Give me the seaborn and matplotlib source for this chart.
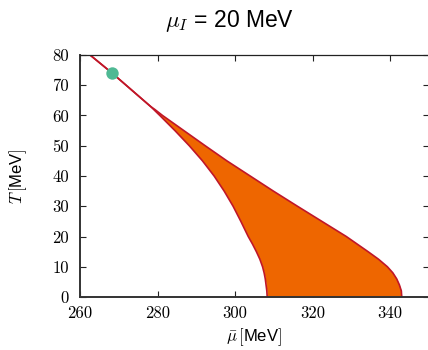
import matplotlib
matplotlib.use("Agg")
import matplotlib.pyplot as plt
import seaborn as sns

# Data
T_vals = [0, 2, 4, 6, 8, 10, 12.5, 15, 17.5, 20, 25, 30, 35, 40, 45, 50, 55,
          60, 62, 63, 65, 70, 74, 80]
mu_left = [308.3, 308.2, 308.0, 307.8, 307.5, 307.1, 306.4, 305.5, 304.5, 303.4,
           301.5, 299.5, 297.2, 294.6, 291.6, 288.2, 284.5, 280.6, 279.0, 278.2,
           276.4, 271.9, 268.3, 262.6]
mu_right = [343.0, 342.9, 342.4, 341.7, 340.7, 339.3, 337.0, 334.3, 331.5, 328.7,
            322.4, 316.1, 309.9, 303.9, 297.9, 292.3, 286.8, 281.3, 279.3, 278.2,
            276.4, 271.9, 268.3, 262.6]
point_mu = [268.3]
point_T = [74.0]
x_ticks = [260, 280, 300, 320, 340]
y_ticks = [0, 10, 20, 30, 40, 50, 60, 70, 80]

sns.set_style("ticks")
plt.rcParams["mathtext.fontset"] = "cm"
plt.rcParams["font.family"] = ["Liberation Sans", "DejaVu Sans"]
plt.rcParams["text.color"] = "black"
plt.rcParams["axes.labelcolor"] = "black"

fig = plt.figure(figsize=(4.28, 3.5), dpi=100)
ax = fig.add_axes([80 / 428, 1 - 297 / 350, 1.002 - 80 / 428, (297 - 55) / 350])

line_color = "#c01628"
fill_color = "#ee6600"

ax.fill_betweenx(T_vals, mu_left, mu_right, color=fill_color, linewidth=0, zorder=1)
sns.lineplot(x=mu_left, y=T_vals, orient="y", sort=False, estimator=None,
             color=line_color, linewidth=1.2, ax=ax, zorder=2)
sns.lineplot(x=mu_right, y=T_vals, orient="y", sort=False, estimator=None,
             color=line_color, linewidth=1.2, ax=ax, zorder=2)
sns.scatterplot(x=point_mu, y=point_T, color="#4fb994", s=80, linewidth=0,
                ax=ax, zorder=3, clip_on=False)

ax.set_xlim(260, 350)
ax.set_ylim(0, 80)
ax.set_xticks(x_ticks)
ax.set_yticks(y_ticks)
ax.set_xticklabels([str(v) for v in x_ticks], fontfamily="cmr10", fontsize=12)
ax.set_yticklabels([str(v) for v in y_ticks], fontfamily="cmr10", fontsize=12)
ax.tick_params(direction="in", length=4, width=0.8, top=True, right=True,
               colors="#222222", labelcolor="black")
ax.tick_params(axis="x", pad=6)
ax.tick_params(axis="y", pad=8)

for side in ["left", "bottom"]:
    ax.spines[side].set_linewidth(1.4)
    ax.spines[side].set_color("#333333")
for side in ["top", "right"]:
    ax.spines[side].set_linewidth(0.9)
    ax.spines[side].set_color("#222222")

ax.set_xlabel(r"$\bar{\mu}\,[$MeV$]$", fontsize=12, labelpad=4)
ax.set_ylabel(r"$T\,[$MeV$]$", fontsize=12, labelpad=17)
fig.text(230 / 428, 1 - 21 / 350, r"$\mu_I$ = 20 MeV", fontsize=16.5,
         ha="center", va="center")

fig.savefig("out.png", dpi=100)
